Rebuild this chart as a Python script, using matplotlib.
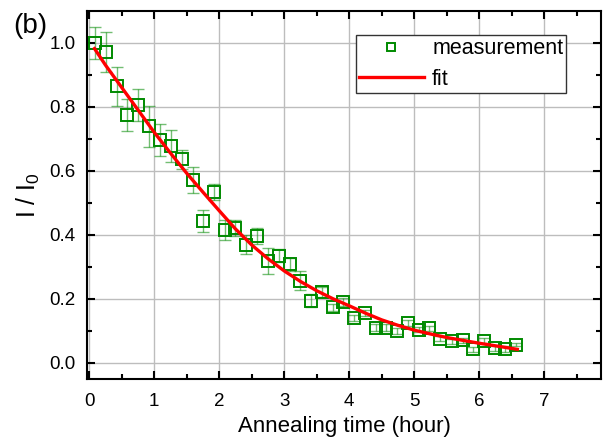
#!/usr/bin/env python3

# Relative intensity vs annealing time, with fit

import numpy as np
from matplotlib import pyplot as plt
import matplotlib

params = {
    'font.family': 'Liberation Sans',
    'mathtext.default': 'regular',
    'font.size': 14,
    'xtick.labelsize': 13.5,
    'ytick.labelsize': 13.5,
    'axes.labelsize': 16,
    'legend.fontsize': 15.5,
    'figure.dpi': 100,
}
matplotlib.rcParams.update(params)

# measured points
t_meas = [0.09, 0.25, 0.42, 0.585, 0.754, 0.914, 1.088, 1.252, 1.42, 1.588,
          1.745, 1.916, 2.08, 2.249, 2.414, 2.585, 2.754, 2.915, 3.088, 3.249,
          3.415, 3.58, 3.746, 3.90, 4.07, 4.24, 4.414, 4.56, 4.737, 4.90,
          5.067, 5.234, 5.403, 5.575, 5.746, 5.908, 6.07, 6.24, 6.403, 6.568]
i_meas = [1.000, 0.971, 0.864, 0.775, 0.806, 0.739, 0.696, 0.678, 0.636, 0.572,
          0.443, 0.534, 0.415, 0.420, 0.369, 0.395, 0.318, 0.335, 0.308, 0.257,
          0.194, 0.221, 0.173, 0.191, 0.140, 0.156, 0.110, 0.110, 0.100, 0.125,
          0.104, 0.108, 0.075, 0.067, 0.070, 0.042, 0.069, 0.046, 0.043, 0.057]
i_err = [0.050, 0.063, 0.062, 0.050, 0.050, 0.065, 0.050, 0.050, 0.030, 0.040,
         0.035, 0.025, 0.032, 0.025, 0.030, 0.025, 0.040, 0.020, 0.020, 0.030,
         0.020, 0.015, 0.012, 0.012, 0.010, 0.010, 0.010, 0.010, 0.010, 0.010,
         0.008, 0.008, 0.008, 0.008, 0.008, 0.008, 0.008, 0.008, 0.008, 0.006]

# fitted curve
t_fit = [0.08, 0.25, 0.5, 0.75, 1.0, 1.25, 1.5, 1.75, 2.0, 2.25, 2.5, 2.75,
         3.0, 3.25, 3.5, 3.75, 4.0, 4.25, 4.5, 4.75, 5.0, 5.25, 5.5, 5.75,
         6.0, 6.25, 6.585]
i_fit = [0.982, 0.930, 0.860, 0.790, 0.720, 0.655, 0.592, 0.533, 0.475, 0.418,
         0.368, 0.325, 0.287, 0.254, 0.225, 0.200, 0.178, 0.155, 0.134, 0.117,
         0.102, 0.090, 0.079, 0.070, 0.061, 0.053, 0.042]

green = '#008a00'

fig = plt.figure(figsize=(6.15, 4.46))
ax = fig.add_axes([0.141, 0.150, 0.837, 0.825])

ax.errorbar(t_meas, i_meas, yerr=i_err, fmt='none', ecolor=green,
            elinewidth=1.0, capsize=4, capthick=1.0, alpha=0.55, zorder=2)
ax.plot(t_meas, i_meas, 's', ms=8, mfc='none', mec=green, mew=1.4,
        label='measurement', zorder=3)
ax.plot(t_fit, i_fit, '-', color='#ff0000', lw=2.4, label='fit', zorder=4)

ax.set_xlim(-0.04, 7.88)
ax.set_ylim(-0.051, 1.099)
ax.set_xticks(np.arange(0, 8, 1))
ax.set_xticks(np.arange(0.5, 8, 1), minor=True)
ax.set_yticks(np.arange(0, 1.01, 0.2))
ax.set_yticks(np.arange(0.1, 1.1, 0.2), minor=True)
ax.yaxis.set_major_formatter(matplotlib.ticker.FormatStrFormatter('%.1f'))

ax.tick_params(which='both', direction='in', top=True, right=True, width=1.5)
ax.tick_params(which='major', length=6)
ax.tick_params(which='minor', length=3.5)
ax.tick_params(axis='x', which='major', pad=10)
ax.tick_params(axis='y', which='major', pad=8)
for s in ax.spines.values():
    s.set_linewidth(1.5)

ax.grid(True, which='major', color='#bdbdbd', lw=1.0)
ax.set_axisbelow(True)

ax.set_xlabel('Annealing time (hour)', labelpad=4)
ax.set_ylabel('I / I$_0$', fontsize=18, labelpad=5)

leg = ax.legend(loc='upper right', bbox_to_anchor=(0.932, 0.935),
                borderaxespad=0, fancybox=False, framealpha=1,
                edgecolor='#333333', handlelength=3.0, handletextpad=0.4,
                labelspacing=0.45, borderpad=0.15, markerscale=0.75)
leg.get_frame().set_linewidth(1.0)

fig.text(0.022, 0.97, '(b)', fontsize=20, va='top', ha='left')

plt.savefig('out.png', dpi=100)
